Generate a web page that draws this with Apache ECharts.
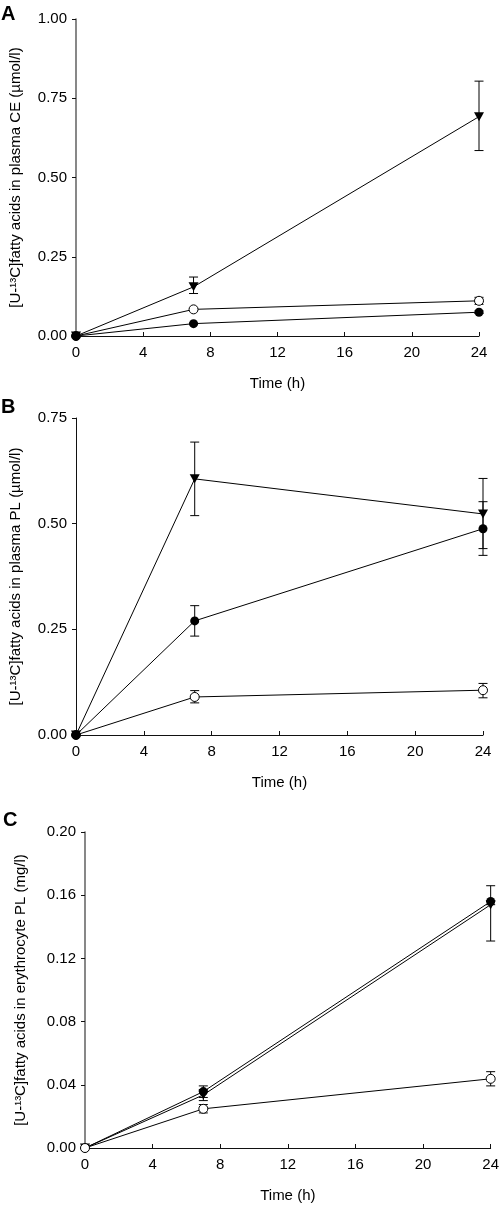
<!DOCTYPE html>
<html>
<head>
<meta charset="utf-8">
<script src="https://cdn.jsdelivr.net/npm/echarts@6/dist/echarts.min.js"></script>
<style>
html,body{margin:0;padding:0;background:#fff;}
#chart{width:502px;height:1206px;}
</style>
</head>
<body>
<div id="chart"></div>
<script>
// ---- data ----
const time = [0, 7, 24];
const xTicks = [0, 4, 8, 12, 16, 20, 24];

// Panel A: plasma CE (µmol/l)
const A_tri = [0, 0.155, 0.692];
const A_triLo = [0, 0.134, 0.585];
const A_triHi = [0, 0.186, 0.804];
const A_open = [0, 0.084, 0.111];
const A_openLo = [0, 0.081, 0.100];
const A_openHi = [0, 0.087, 0.122];
const A_fill = [0, 0.039, 0.075];
const A_fillLo = [0, 0.037, 0.071];
const A_fillHi = [0, 0.041, 0.079];

// Panel B: plasma PL (µmol/l)
const B_tri = [0, 0.606, 0.523];
const B_triLo = [0, 0.519, 0.441];
const B_triHi = [0, 0.693, 0.607];
const B_fill = [0, 0.270, 0.488];
const B_fillLo = [0, 0.234, 0.425];
const B_fillHi = [0, 0.306, 0.552];
const B_open = [0, 0.090, 0.106];
const B_openLo = [0, 0.076, 0.088];
const B_openHi = [0, 0.105, 0.122];

// Panel C: erythrocyte PL (mg/l)
const C_tri = [0, 0.0336, 0.154];
const C_triLo = [0, 0.0300, 0.131];
const C_triHi = [0, 0.0370, 0.154];
const C_fill = [0, 0.0357, 0.156];
const C_fillLo = [0, 0.0320, 0.156];
const C_fillHi = [0, 0.0393, 0.166];
const C_open = [0, 0.0248, 0.0438];
const C_openLo = [0, 0.0222, 0.0393];
const C_openHi = [0, 0.0275, 0.0483];

const yNames = [
  '[U-\u00B9\u00B3C]fatty acids in plasma CE (\u00B5mol/l)',
  '[U-\u00B9\u00B3C]fatty acids in plasma PL (\u00B5mol/l)',
  '[U-\u00B9\u00B3C]fatty acids in erythrocyte PL (mg/l)'
];
const xName = 'Time (h)';
const panelLetters = ['A', 'B', 'C'];

// ---- chart ----
const FONT = "'Liberation Sans', Arial, sans-serif";
const chart = echarts.init(document.getElementById('chart'), null, {renderer: 'canvas'});

const grids = [
  {left: 72, top: 19, width: 407, height: 317},
  {left: 76, top: 418, width: 407, height: 317},
  {left: 85, top: 832, width: 407, height: 316}
];
const yCfg = [
  {max: 1.0, interval: 0.25, color: '#6a6a6a', w: 1.6, gap: 53},
  {max: 0.75, interval: 0.25, color: '#111', w: 1, gap: 53},
  {max: 0.20, interval: 0.04, color: '#6a6a6a', w: 1.6, gap: 57}
];

function pairs(v) { return time.map((t, i) => [t, v[i]]); }
function errData(lo, hi) { return time.map((t, i) => [t, lo[i], hi[i]]).filter(d => d[2] - d[1] > 1e-9); }

function errRender(params, api) {
  const x = api.value(0), lo = api.value(1), hi = api.value(2);
  const a = api.coord([x, lo]), b = api.coord([x, hi]);
  const w = 4.5;
  const st = {stroke: '#000', lineWidth: 1};
  return {type: 'group', children: [
    {type: 'line', shape: {x1: a[0], y1: a[1], x2: b[0], y2: b[1]}, style: st},
    {type: 'line', shape: {x1: a[0] - w, y1: a[1], x2: a[0] + w, y2: a[1]}, style: st},
    {type: 'line', shape: {x1: b[0] - w, y1: b[1], x2: b[0] + w, y2: b[1]}, style: st}
  ]};
}

const styles = {
  tri: {symbol: 'triangle', symbolRotate: 180, symbolSize: [10, 9], itemStyle: {color: '#000', borderColor: '#000', borderWidth: 0}},
  fill: {symbol: 'circle', symbolSize: 9, itemStyle: {color: '#000', borderColor: '#000', borderWidth: 0}},
  open: {symbol: 'circle', symbolSize: 9, itemStyle: {color: '#fff', borderColor: '#000', borderWidth: 1}}
};

const panels = [
  [['open', A_open, A_openLo, A_openHi], ['tri', A_tri, A_triLo, A_triHi], ['fill', A_fill, A_fillLo, A_fillHi]],
  [['open', B_open, B_openLo, B_openHi], ['fill', B_fill, B_fillLo, B_fillHi], ['tri', B_tri, B_triLo, B_triHi]],
  [['tri', C_tri, C_triLo, C_triHi], ['fill', C_fill, C_fillLo, C_fillHi], ['open', C_open, C_openLo, C_openHi]]
];

const xAxes = [], yAxes = [], series = [], graphics = [];
grids.forEach((g, i) => {
  xAxes.push({
    gridIndex: i, type: 'value', min: 0, max: 24, interval: 4,
    name: xName, nameLocation: 'middle', nameGap: 40,
    nameTextStyle: {fontFamily: FONT, fontSize: 15, color: '#000'},
    axisLine: {show: true, onZero: false, lineStyle: {color: '#111', width: 1}},
    axisTick: {show: true, inside: true, length: 4, lineStyle: {color: '#111'}},
    axisLabel: {fontFamily: FONT, fontSize: 15, color: '#000', margin: 9},
    splitLine: {show: false}
  });
  const c = yCfg[i];
  yAxes.push({
    gridIndex: i, type: 'value', min: 0, max: c.max, interval: c.interval,
    name: yNames[i], nameLocation: 'middle', nameGap: c.gap, nameRotate: 90,
    nameTextStyle: {fontFamily: FONT, fontSize: 15, color: '#000'},
    axisLine: {show: true, onZero: false, lineStyle: {color: c.color, width: c.w}},
    axisTick: {show: true, inside: false, length: 4, lineStyle: {color: '#111'}},
    axisLabel: {fontFamily: FONT, fontSize: 15, color: '#000', margin: 9, formatter: v => v.toFixed(2)},
    splitLine: {show: false}
  });
  panels[i].forEach(([kind, v, lo, hi]) => {
    series.push({
      type: 'custom', xAxisIndex: i, yAxisIndex: i, renderItem: errRender,
      data: errData(lo, hi), z: 1, clip: false, silent: true
    });
  });
  panels[i].forEach(([kind, v]) => {
    const s = styles[kind];
    series.push(Object.assign({
      type: 'line', xAxisIndex: i, yAxisIndex: i, data: pairs(v), z: 3, clip: false,
      lineStyle: {color: '#000', width: 1}, showAllSymbol: true
    }, s));
  });
  graphics.push({
    type: 'text', left: i === 2 ? 3 : 1, top: [4, 397, 810][i],
    style: {text: panelLetters[i], font: "bold 20px 'Liberation Sans', Arial, sans-serif", fill: '#000'}
  });
});

chart.setOption({
  animation: false,
  backgroundColor: '#fff',
  grid: grids,
  xAxis: xAxes,
  yAxis: yAxes,
  series: series,
  graphic: graphics
});
</script>
</body>
</html>
